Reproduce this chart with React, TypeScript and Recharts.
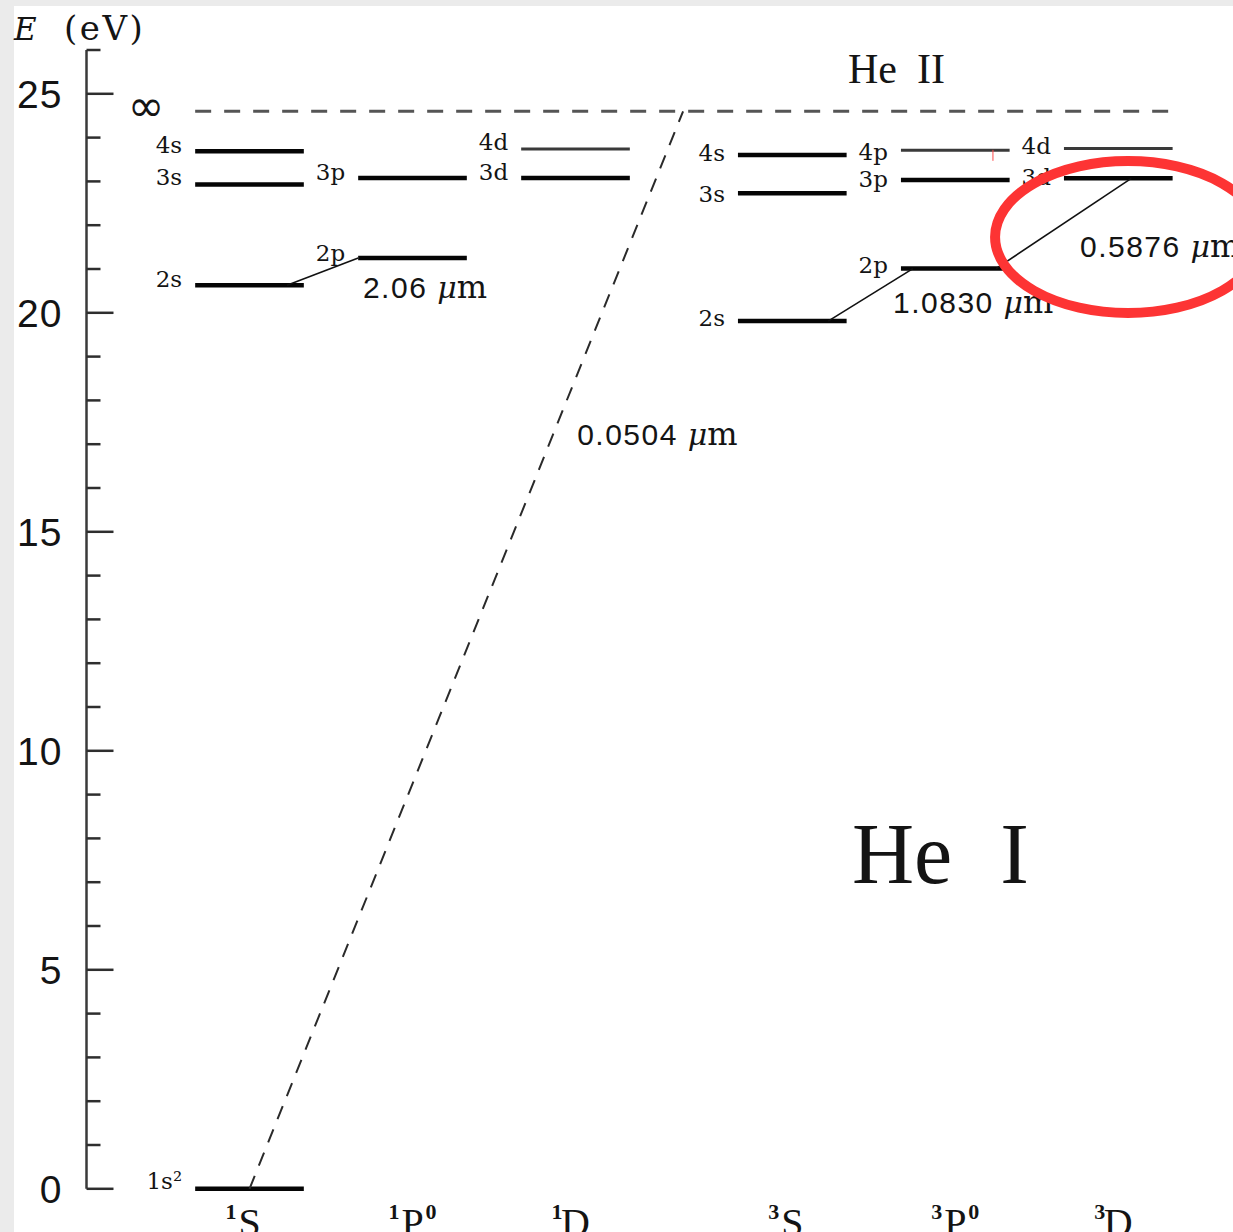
import { ComposedChart, XAxis, YAxis, ReferenceLine, ReferenceDot } from "recharts";

const WIDTH = 1233;
const HEIGHT = 1232;

// term columns along the bottom: multiplicity, orbital letter, parity mark
const termMultiplicity = ["1", "1", "1", "3", "3", "3"];
const termLetter = ["S", "P", "D", "S", "P", "D"];
const termParity = ["", "0", "", "", "0", ""];
const termX = [1, 2, 3, 4.33, 5.33, 6.33];

// level energies in eV, one list per term column
const singletS = [
  { name: "1s²", E: 0 },
  { name: "2s", E: 20.63 },
  { name: "3s", E: 22.93 },
  { name: "4s", E: 23.69 },
];
const singletP = [
  { name: "2p", E: 21.25 },
  { name: "3p", E: 23.08 },
];
const singletD = [
  { name: "3d", E: 23.08 },
  { name: "4d", E: 23.74 },
];
const tripletS = [
  { name: "2s", E: 19.81 },
  { name: "3s", E: 22.73 },
  { name: "4s", E: 23.6 },
];
const tripletP = [
  { name: "2p", E: 21.01 },
  { name: "3p", E: 23.03 },
  { name: "4p", E: 23.71 },
];
const tripletD = [
  { name: "3d", E: 23.07 },
  { name: "4d", E: 23.75 },
];
const columns = [singletS, singletP, singletD, tripletS, tripletP, tripletD];

const ionizationE = 24.6;
const energyTicks = [0, 1, 2, 3, 4, 5, 6, 7, 8, 9, 10, 11, 12, 13, 14, 15, 16, 17, 18, 19, 20, 21, 22, 23, 24, 25, 26];

// transitions (x in column units), last one is the ionization edge
const wavelengths = ["2.06", "1.0830", "0.5876", "0.0504"];
const lowerEnd = [
  { x: 1.23, E: singletS[1].E },
  { x: 4.55, E: tripletS[0].E },
  { x: 5.58, E: tripletP[0].E },
  { x: 1.0, E: singletS[0].E },
];
const upperEnd = [
  { x: 1.667, E: singletP[0].E },
  { x: 5.07, E: tripletP[0].E },
  { x: 6.41, E: tripletD[0].E },
  { x: 3.66, E: ionizationE },
];

// ---- layout ----
const HALF = 1 / 3; // half length of a level bar, column units
const wavelengthLabelAt = [
  { x: 1.696, E: 20.34 },
  { x: 4.948, E: 20.0 },
  { x: 6.095, E: 21.27 },
  { x: 3.01, E: 16.98 },
];
const levelLabelDy = [[0, 2, 1, 2], [3, 2], [2, 1], [5, 9, 6], [4, 7, 10], [7, 5]];
const lightLevels = new Set(["4p", "4d"]);

const INK = "#141414";
const SERIF = "'DejaVu Serif', serif";
const TIMES = "'Liberation Serif', serif";
const SANS = "'Liberation Sans', Arial, sans-serif";

const levelRows = columns.flatMap((levels, c) =>
  levels.map((lv) => ({ x: termX[c], E: lv.E }))
);

function EnergyTick(props: any) {
  const { x, y, payload } = props;
  const major = payload.value % 5 === 0;
  return (
    <g>
      <line x1={x} x2={x + (major ? 27 : 14)} y1={y} y2={y} stroke="#2e2e2e" strokeWidth={2.5} />
      {major && (
        <text x={x - 24} y={y + 14} textAnchor="end" fontFamily={SANS} fontSize={39} letterSpacing={1} fill={INK}>
          {payload.value}
        </text>
      )}
    </g>
  );
}

function TermTick(props: any) {
  const { x, y, payload } = props;
  const i = termX.indexOf(payload.value);
  if (i < 0) return null;
  return (
    <g fill={INK} fontFamily={TIMES}>
      <text x={x - 13} y={y + 30} textAnchor="end" fontSize={22} fontWeight={600}>
        {termMultiplicity[i]}
      </text>
      <text x={x} y={y + 47} textAnchor="middle" fontSize={40}>
        {termLetter[i]}
      </text>
      {termParity[i] && (
        <text x={x + 13} y={y + 30} textAnchor="start" fontSize={22} fontWeight={600}>
          {termParity[i]}
        </text>
      )}
    </g>
  );
}

function AxisTitle(props: any) {
  const { viewBox } = props;
  const base = viewBox.y - 10;
  return (
    <g fill={INK} fontFamily={SERIF}>
      <text x={14} y={base} fontSize={31} fontStyle="italic">
        E
      </text>
      <text x={64} y={base} fontSize={34} letterSpacing={2.5}>
        (eV)
      </text>
    </g>
  );
}

export default function App() {
  return (
    <div
      style={{
        position: "absolute",
        left: 0,
        top: 0,
        width: WIDTH,
        height: HEIGHT,
        background: "#ebebeb",
        overflow: "hidden",
      }}
    >
      <div style={{ position: "absolute", left: 14, top: 6, right: 0, bottom: 0, background: "#ffffff" }} />
      <div style={{ position: "absolute", left: 0, top: 0 }}>
        <ComposedChart
          width={WIDTH}
          height={HEIGHT}
          data={levelRows}
          margin={{ top: 50, right: 5.5, bottom: 0, left: 0 }}
        >
          <XAxis
            type="number"
            dataKey="x"
            domain={[0, 7]}
            ticks={termX}
            interval={0}
            allowDataOverflow
            axisLine={false}
            tickLine={false}
            tickSize={0}
            tickMargin={0}
            height={43.2}
            tick={(p: any) => <TermTick {...p} />}
          />
          <YAxis
            type="number"
            dataKey="E"
            domain={[0, 26]}
            ticks={energyTicks}
            interval={0}
            allowDataOverflow
            width={86.5}
            axisLine={{ stroke: "#3a3a3a", strokeWidth: 2.5 }}
            tickLine={false}
            tickSize={0}
            tickMargin={0}
            tick={(p: any) => <EnergyTick {...p} />}
            label={{ content: (p: any) => <AxisTitle {...p} /> }}
          />

          {/* ionization limit */}
          <ReferenceLine
            segment={[
              { x: termX[0] - HALF, y: ionizationE },
              { x: termX[5] + HALF, y: ionizationE },
            ]}
            stroke="#555"
            strokeWidth={3}
            strokeDasharray="16 13"
          />

          {/* energy levels */}
          {columns.map((levels, c) =>
            levels.map((lv) => (
              <ReferenceLine
                key={`lv-${c}-${lv.name}`}
                segment={[
                  { x: termX[c] - HALF, y: lv.E },
                  { x: termX[c] + HALF, y: lv.E },
                ]}
                stroke={lightLevels.has(lv.name) ? "#3a3a3a" : "#050505"}
                strokeWidth={lightLevels.has(lv.name) ? 3 : 4.5}
              />
            ))
          )}

          {/* transitions */}
          {wavelengths.map((w, i) => (
            <ReferenceLine
              key={`tr-${w}`}
              segment={[
                { x: lowerEnd[i].x, y: lowerEnd[i].E },
                { x: upperEnd[i].x, y: upperEnd[i].E },
              ]}
              stroke={i === 3 ? "#2a2a2a" : "#111"}
              strokeWidth={i === 3 ? 2 : 1.6}
              strokeDasharray={i === 3 ? "14 11" : undefined}
            />
          ))}

          {/* level names */}
          {columns.map((levels, c) =>
            levels.map((lv, i) => (
              <ReferenceDot
                key={`name-${c}-${lv.name}`}
                x={termX[c] - HALF}
                y={lv.E}
                shape={(p: any) => (
                  <text
                    x={p.cx - 13}
                    y={p.cy + levelLabelDy[c][i]}
                    textAnchor="end"
                    fontFamily={SERIF}
                    fontSize={23}
                    fill={INK}
                  >
                    {lv.name}
                  </text>
                )}
              />
            ))
          )}

          {/* wavelength labels */}
          {wavelengths.map((w, i) => (
            <ReferenceDot
              key={`wl-${w}`}
              x={wavelengthLabelAt[i].x}
              y={wavelengthLabelAt[i].E}
              shape={(p: any) => (
                <text x={p.cx} y={p.cy} fill={INK}>
                  <tspan fontFamily={SANS} fontSize={30} letterSpacing={1.5}>
                    {w + " "}
                  </tspan>
                  <tspan fontFamily={SERIF} fontStyle="italic" fontSize={30}>
                    μ
                  </tspan>
                  <tspan fontFamily={SERIF} fontSize={32}>
                    m
                  </tspan>
                </text>
              )}
            />
          ))}

          <ReferenceDot
            x={0.365}
            y={ionizationE}
            shape={(p: any) => (
              <text x={p.cx} y={p.cy + 10} textAnchor="middle" fontFamily="'DejaVu Sans', sans-serif" fontSize={44} fill={INK}>
                ∞
              </text>
            )}
          />
          <ReferenceDot
            x={4.672}
            y={25.25}
            shape={(p: any) => (
              <text x={p.cx} y={p.cy} fontFamily={TIMES} fontSize={42} fill={INK}>
                He
                <tspan dx={20}>II</tspan>
              </text>
            )}
          />
          <ReferenceDot
            x={4.696}
            y={6.98}
            shape={(p: any) => (
              <text x={p.cx} y={p.cy} fontFamily={TIMES} fontSize={86} fill={INK}>
                He
                <tspan dx={48}>I</tspan>
              </text>
            )}
          />

          {/* hand-drawn highlight around the 0.5876 µm line */}
          <ReferenceLine
            segment={[
              { x: 5.561, y: 23.72 },
              { x: 5.561, y: 23.47 },
            ]}
            stroke="#ff4a4a"
            strokeWidth={1}
          />
          <ReferenceDot
            x={6.39}
            y={21.73}
            shape={(p: any) => (
              <ellipse cx={p.cx} cy={p.cy} rx={133} ry={76} fill="none" stroke="#fd3434" strokeWidth={10} />
            )}
          />
        </ComposedChart>
      </div>
    </div>
  );
}
